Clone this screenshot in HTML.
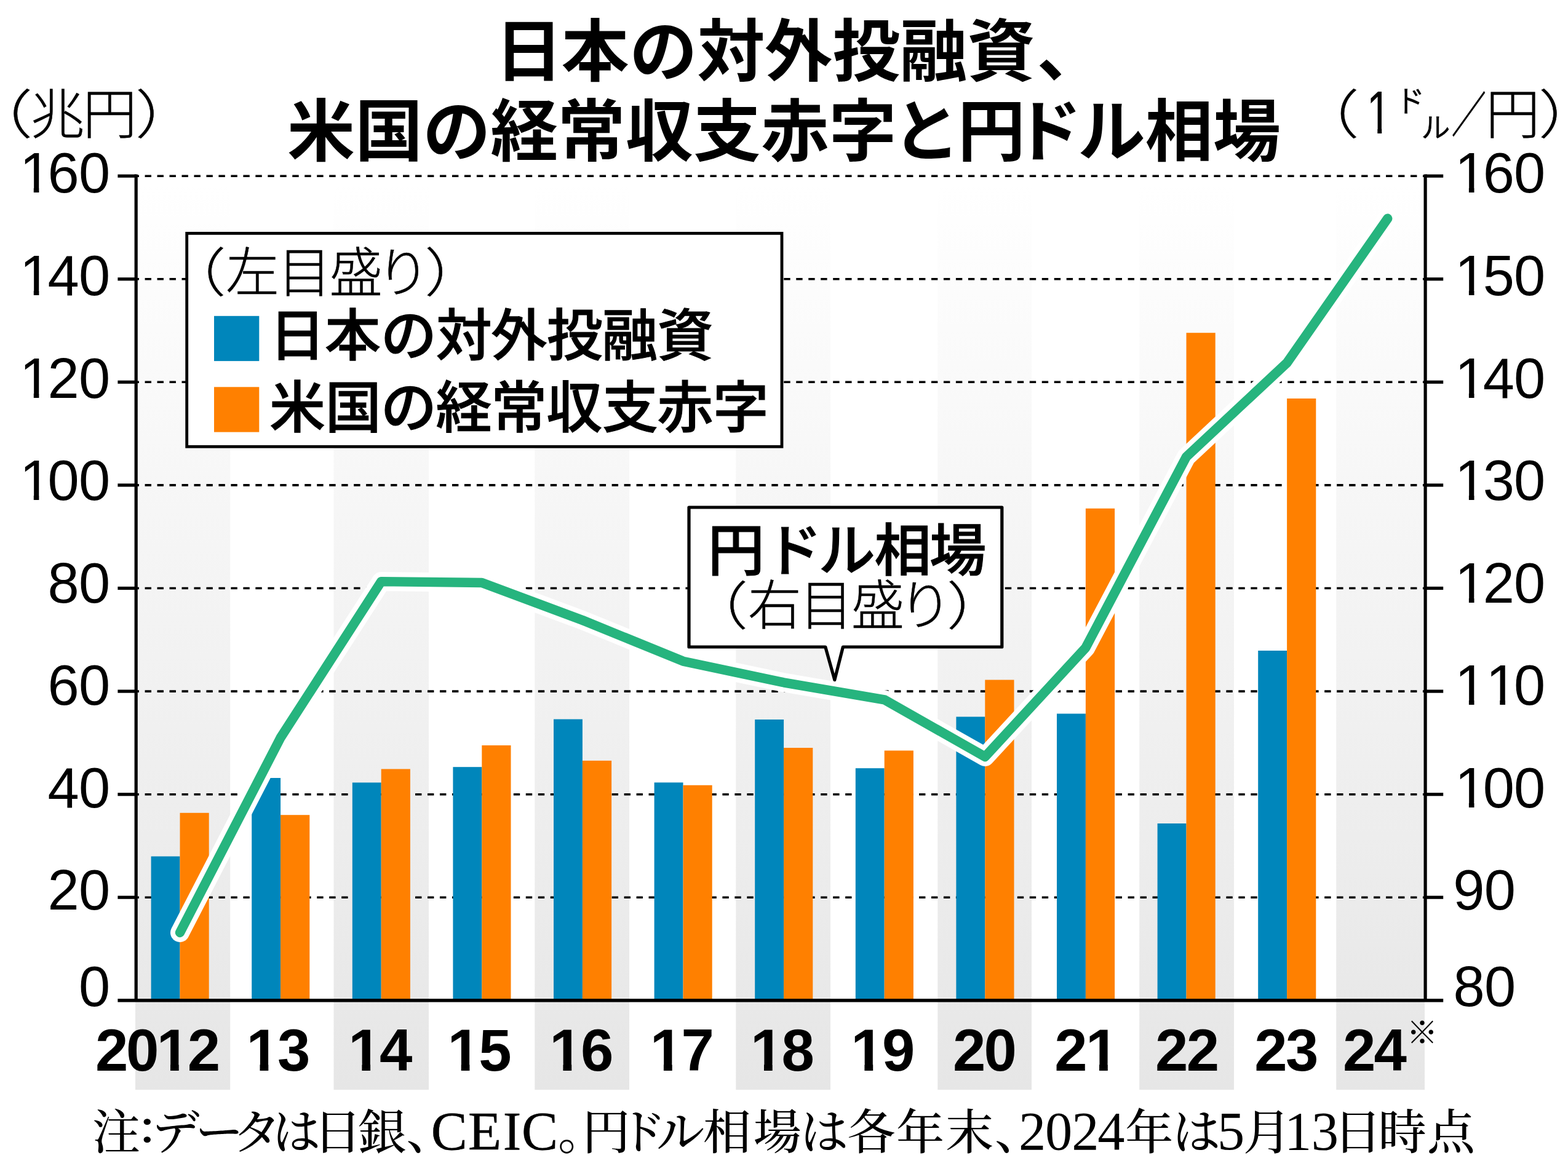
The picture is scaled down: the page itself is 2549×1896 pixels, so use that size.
<!DOCTYPE html>
<html lang="ja">
<head>
<meta charset="utf-8">
<title>日本の対外投融資、米国の経常収支赤字と円ドル相場</title>
<style>
html,body{margin:0;padding:0;background:#fff;}
body{width:2549px;height:1896px;overflow:hidden;position:relative;}
svg{display:block;position:absolute;left:0;top:0;}
text{fill:#000;font-kerning:none;white-space:pre;}
.sansB{font-family:"Noto Sans CJK JP",sans-serif;font-weight:700;}
.sansM{font-family:"Noto Sans CJK JP",sans-serif;font-weight:500;stroke:#000;stroke-width:1.1px;}
.sansR{font-family:"Noto Sans CJK JP",sans-serif;font-weight:400;}
.sansL{font-family:"Noto Sans CJK JP",sans-serif;font-weight:300;stroke:#000;stroke-width:0.5px;}
.serifM{font-family:"Noto Serif CJK JP","Noto Serif CJK SC",serif;font-weight:500;}
.libR{font-family:"Liberation Sans",sans-serif;font-weight:400;}
.libB{font-family:"Liberation Sans",sans-serif;font-weight:700;}
.libSerif{font-family:"Liberation Serif",serif;font-weight:400;}
.libSerifC{font-family:"Liberation Serif",serif;font-weight:400;stroke:#000;stroke-width:0.5px;}
</style>
</head>
<body>
<svg width="2549" height="1896" viewBox="0 0 2549 1896" role="img" aria-label="日本の対外投融資、米国の経常収支赤字と円ドル相場">
<defs>
<linearGradient id="g" gradientUnits="userSpaceOnUse" x1="0" y1="300" x2="0" y2="1772"><stop offset="0" stop-color="#ffffff"/><stop offset="1" stop-color="#e6e6e6"/></linearGradient>
<clipPath id="hn"><path clip-rule="evenodd" d="M0,0H2549V1896H0ZM37.1,805.8h17.7v9.5h-17.7ZM63.4,805.8h17.2v9.5h-17.2ZM37.1,639.3h17.7v9.5h-17.7ZM63.4,639.3h17.2v9.5h-17.2ZM37.1,472h17.7v9.5h-17.7ZM63.4,472h17.2v9.5h-17.2ZM37.1,305.9h17.7v9.5h-17.7ZM63.4,305.9h17.2v9.5h-17.2ZM2370.2,1305.2h17.7v9.5h-17.7ZM2396.5,1305.2h17.2v9.5h-17.2ZM2370.2,1138.8h17.7v9.5h-17.7ZM2396.5,1138.8h17.2v9.5h-17.2ZM2420.6,1138.8h17.7v9.5h-17.7ZM2447,1138.8h17.2v9.5h-17.2ZM2370.2,972.3h17.7v9.5h-17.7ZM2396.5,972.3h17.2v9.5h-17.2ZM2370.2,805.8h17.7v9.5h-17.7ZM2396.5,805.8h17.2v9.5h-17.2ZM2370.2,639.3h17.7v9.5h-17.7ZM2396.5,639.3h17.2v9.5h-17.2ZM2370.2,472h17.7v9.5h-17.7ZM2396.5,472h17.2v9.5h-17.2ZM2370.2,305.9h17.7v9.5h-17.7ZM2396.5,305.9h17.2v9.5h-17.2Z"/></clipPath>
<clipPath id="hx"><path clip-rule="evenodd" d="M0,0H2549V1896H0ZM259,1729.8h18v12.8h-18ZM290.7,1729.8h17v12.8h-17ZM404.5,1729.8h18v12.8h-18ZM436.3,1729.8h17v12.8h-17ZM570.4,1729.8h18v12.8h-18ZM602.1,1729.8h17v12.8h-17ZM731.7,1729.8h18v12.8h-18ZM763.4,1729.8h17v12.8h-17ZM897.4,1729.8h18v12.8h-18ZM929.2,1729.8h17v12.8h-17ZM1060.9,1729.8h18v12.8h-18ZM1092.7,1729.8h17v12.8h-17ZM1224,1729.8h18v12.8h-18ZM1255.7,1729.8h17v12.8h-17ZM1387.4,1729.8h18v12.8h-18ZM1419.2,1729.8h17v12.8h-17ZM1769,1729.8h18v12.8h-18ZM1800.8,1729.8h17v12.8h-17Z"/></clipPath>
<clipPath id="hu"><path clip-rule="evenodd" d="M0,0H2549V1896H0ZM2224.8,209.1h14.5v10.1h-14.5ZM2246.2,209.1h14.2v10.1h-14.2Z"/></clipPath>
</defs>
<rect x="0" y="0" width="2549" height="1896" fill="#fff"/>
<g fill="url(#g)">
<rect x="220" y="300" width="154.2" height="1472"/>
<rect x="542.5" y="300" width="154.5" height="1472"/>
<rect x="869.3" y="300" width="153.7" height="1472"/>
<rect x="1196.3" y="300" width="153.7" height="1472"/>
<rect x="1524.3" y="300" width="152.7" height="1472"/>
<rect x="1852.2" y="300" width="153.8" height="1472"/>
<rect x="2172.2" y="300" width="143.8" height="1472"/>
</g>
<g stroke="#000" stroke-width="3.6" stroke-dasharray="10.4 9.575" fill="none">
<line x1="215.6" y1="1459.2" x2="2317.1" y2="1459.2"/>
<line x1="215.6" y1="1291.7" x2="2317.1" y2="1291.7"/>
<line x1="215.6" y1="1124.1" x2="2317.1" y2="1124.1"/>
<line x1="215.6" y1="956.5" x2="2317.1" y2="956.5"/>
<line x1="215.6" y1="788.9" x2="2317.1" y2="788.9"/>
<line x1="215.6" y1="621.3" x2="2317.1" y2="621.3"/>
<line x1="215.6" y1="453.8" x2="2317.1" y2="453.8"/>
<line x1="215.6" y1="286.2" x2="2317.1" y2="286.2"/>
</g>
<g fill="#0086bb">
<rect x="245.6" y="1392.5" width="46.9" height="234.3"/>
<rect x="409.2" y="1265" width="46.9" height="361.8"/>
<rect x="572.8" y="1272.5" width="46.9" height="354.3"/>
<rect x="736.4" y="1247.2" width="46.9" height="379.6"/>
<rect x="900" y="1169.5" width="46.9" height="457.3"/>
<rect x="1063.6" y="1272.4" width="46.9" height="354.4"/>
<rect x="1227.2" y="1170" width="46.9" height="456.8"/>
<rect x="1390.8" y="1249.2" width="46.9" height="377.5"/>
<rect x="1554.4" y="1165.5" width="46.9" height="461.3"/>
<rect x="1718" y="1160.5" width="46.9" height="466.3"/>
<rect x="1881.6" y="1339" width="46.9" height="287.8"/>
<rect x="2045.2" y="1058" width="46.9" height="568.8"/>
</g>
<g fill="#ff8000">
<rect x="292.5" y="1321.8" width="47.199999999999996" height="305"/>
<rect x="456.1" y="1325.2" width="47.199999999999996" height="301.5"/>
<rect x="619.7" y="1250.5" width="47.199999999999996" height="376.3"/>
<rect x="783.3" y="1212" width="47.199999999999996" height="414.8"/>
<rect x="946.9" y="1236.9" width="47.199999999999996" height="389.9"/>
<rect x="1110.5" y="1276.8" width="47.199999999999996" height="350"/>
<rect x="1274.1" y="1216" width="47.199999999999996" height="410.8"/>
<rect x="1437.7" y="1220.5" width="47.199999999999996" height="406.3"/>
<rect x="1601.3" y="1105.5" width="47.199999999999996" height="521.3"/>
<rect x="1764.9" y="826.8" width="47.199999999999996" height="800"/>
<rect x="1928.5" y="541.2" width="47.199999999999996" height="1085.5"/>
<rect x="2092.1" y="648" width="47.199999999999996" height="978.8"/>
</g>
<g stroke="#000" stroke-width="5.2" fill="none">
<line x1="221.2" y1="283.6" x2="221.2" y2="1626.8"/>
<line x1="2317.1" y1="283.6" x2="2317.1" y2="1626.8"/>
<line x1="191.4" y1="1626.8" x2="2346.2" y2="1626.8" stroke-width="5.6"/>
<line x1="191.4" y1="1459.2" x2="221.2" y2="1459.2"/>
<line x1="2317.1" y1="1459.2" x2="2346.2" y2="1459.2"/>
<line x1="191.4" y1="1291.7" x2="221.2" y2="1291.7"/>
<line x1="2317.1" y1="1291.7" x2="2346.2" y2="1291.7"/>
<line x1="191.4" y1="1124.1" x2="221.2" y2="1124.1"/>
<line x1="2317.1" y1="1124.1" x2="2346.2" y2="1124.1"/>
<line x1="191.4" y1="956.5" x2="221.2" y2="956.5"/>
<line x1="2317.1" y1="956.5" x2="2346.2" y2="956.5"/>
<line x1="191.4" y1="788.9" x2="221.2" y2="788.9"/>
<line x1="2317.1" y1="788.9" x2="2346.2" y2="788.9"/>
<line x1="191.4" y1="621.3" x2="221.2" y2="621.3"/>
<line x1="2317.1" y1="621.3" x2="2346.2" y2="621.3"/>
<line x1="191.4" y1="453.8" x2="221.2" y2="453.8"/>
<line x1="2317.1" y1="453.8" x2="2346.2" y2="453.8"/>
<line x1="191.4" y1="286.2" x2="221.2" y2="286.2"/>
<line x1="2317.1" y1="286.2" x2="2346.2" y2="286.2"/>
</g>
<g clip-path="url(#hn)">
<text class="libR" font-size="92" x="128" y="1635.5">0</text>
<text class="libR" font-size="92" x="77.6 128" y="1478.9">20</text>
<text class="libR" font-size="92" x="77.6 128" y="1312.7">40</text>
<text class="libR" font-size="92" x="77.6 128" y="1146.3">60</text>
<text class="libR" font-size="92" x="77.6 128" y="979.8">80</text>
<text class="libR" font-size="92" x="31.9 77.6 128" y="813.3">100</text>
<text class="libR" font-size="92" x="31.9 77.6 128" y="646.8">120</text>
<text class="libR" font-size="92" x="31.9 77.6 128" y="479.5">140</text>
<text class="libR" font-size="92" x="31.9 77.6 128" y="313.4">160</text>
<text class="libR" font-size="92" x="2362.5 2412.9" y="1635.5">80</text>
<text class="libR" font-size="92" x="2362.3 2412.7" y="1478.9">90</text>
<text class="libR" font-size="92" x="2365 2410.7 2461.1" y="1312.7">100</text>
<text class="libR" font-size="92" x="2365 2415.4 2461.1" y="1146.3">110</text>
<text class="libR" font-size="92" x="2365 2410.7 2461.1" y="979.8">120</text>
<text class="libR" font-size="92" x="2365 2410.7 2461.1" y="813.3">130</text>
<text class="libR" font-size="92" x="2365 2410.7 2461.1" y="646.8">140</text>
<text class="libR" font-size="92" x="2365 2410.7 2461.1" y="479.5">150</text>
<text class="libR" font-size="92" x="2365 2410.7 2461.1" y="313.4">160</text>
</g>
<polyline points="292.5,1516.5 456.1,1199.5 619.7,945.6 783.3,947.5 946.9,1008.5 1110.5,1075.2 1274.1,1109.8 1437.7,1137.8 1601.3,1230.5 1764.9,1053.2 1928.5,742.8 2092.1,590 2255.7,355.3" fill="none" stroke="#fff" stroke-width="31" stroke-linejoin="round" stroke-linecap="round"/>
<polyline points="292.5,1516.5 456.1,1199.5 619.7,945.6 783.3,947.5 946.9,1008.5 1110.5,1075.2 1274.1,1109.8 1437.7,1137.8 1601.3,1230.5 1764.9,1053.2 1928.5,742.8 2092.1,590 2255.7,355.3" fill="none" stroke="#26b47e" stroke-width="15.4" stroke-linejoin="round" stroke-linecap="round"/>
<rect x="303.7" y="379.4" width="967.3" height="346.9" fill="#fff" stroke="#000" stroke-width="4.8"/>
<rect x="348" y="513.8" width="73.3" height="73.3" fill="#0086bb"/>
<rect x="348" y="629.3" width="73.3" height="73.3" fill="#ff8000"/>
<text><tspan class="sansL" font-size="85.2" x="267.5" y="474" textLength="99.79" lengthAdjust="spacingAndGlyphs">（</tspan><tspan class="sansL" font-size="87" x="366.9 451.5 535.3 611.9" y="474.6">左目盛り</tspan><tspan class="sansL" font-size="85.2" x="690.2" y="474" textLength="99.79" lengthAdjust="spacingAndGlyphs">）</tspan></text>
<text class="sansM" font-size="91" x="438 528.1 618.9 708.7 798.2 888.8 978.2 1068.4" y="578.3">日本の対外投融資</text>
<text class="sansM" font-size="91" x="438.1 528.7 618.9 708.6 798.3 888.2 979.1 1068.2 1158.7" y="694.6">米国の経常収支赤字</text>
<path d="M1120,825 H1628.8 V1052 H1370.4 L1356.8,1105.5 L1341.8,1052 H1120 Z" fill="#fff" stroke="#000" stroke-width="5.2" stroke-linejoin="round"/>
<text class="sansM" font-size="92.4" x="1150.4 1243.9 1330.6 1421.4 1511" y="928">円ドル相場</text>
<text><tspan class="sansL" font-size="84.14" x="1116.2" y="1015.6" textLength="99.79" lengthAdjust="spacingAndGlyphs">（</tspan><tspan class="sansL" font-size="87" x="1215.8 1299.7 1383.5 1460.7" y="1016">右目盛り</tspan><tspan class="sansL" font-size="84.14" x="1539" y="1015.6" textLength="99.79" lengthAdjust="spacingAndGlyphs">）</tspan></text>
<text class="sansB" font-size="110" x="804.7 912.4 1023.5 1133.4 1243.1 1353.4 1462.3 1572.5 1685.4" y="123">日本の対外投融資、</text>
<text class="sansB" font-size="110" x="467 577.3 687.6 797.3 906.4 1016.9 1127 1237.3 1347.4 1450.7 1556.7 1648.8 1751.9 1861.8 1971.9" y="252.9">米国の経常収支赤字と円ドル相場</text>
<text><tspan class="sansL" font-size="85.41" x="-53.5" y="216.5" textLength="106.72" lengthAdjust="spacingAndGlyphs">（</tspan><tspan class="sansL" font-size="88" x="49.3 134.6" y="216.5">兆円</tspan><tspan class="sansL" font-size="85.41" x="220.1" y="216.5" textLength="103.36" lengthAdjust="spacingAndGlyphs">）</tspan></text>
<text clip-path="url(#hu)"><tspan class="sansL" font-size="85.41" x="2106.4" y="216.5" textLength="102.94" lengthAdjust="spacingAndGlyphs">（</tspan><tspan class="libR" font-size="99.13" x="2221.5" y="217.2" textLength="40.03" lengthAdjust="spacingAndGlyphs">1</tspan><tspan class="sansL" font-size="90.72" x="2269.9" y="218.8" textLength="91.09" lengthAdjust="spacingAndGlyphs">㌦</tspan><tspan class="sansL" font-size="79.55" x="2359.2" y="215.2" textLength="56.93" lengthAdjust="spacingAndGlyphs">／</tspan><tspan class="sansL" font-size="88" x="2415.2" y="216.5">円</tspan><tspan class="sansL" font-size="85.41" x="2500.9" y="216.5" textLength="102.94" lengthAdjust="spacingAndGlyphs">）</tspan></text>
<g clip-path="url(#hx)">
<text class="libB" font-size="96" x="154.9 204.9 254.8 304.8" y="1740.6">2012</text>
<text class="libB" font-size="96" x="400.4 451.1" y="1740.6">13</text>
<text class="libB" font-size="96" x="566.2 616.9" y="1740.6">14</text>
<text class="libB" font-size="96" x="727.5 778.2" y="1740.6">15</text>
<text class="libB" font-size="96" x="893.3 944" y="1740.6">16</text>
<text class="libB" font-size="96" x="1056.8 1107.5" y="1740.6">17</text>
<text class="libB" font-size="96" x="1219.9 1270.6" y="1740.6">18</text>
<text class="libB" font-size="96" x="1383.3 1434" y="1740.6">19</text>
<text class="libB" font-size="96" x="1548.9 1599.6" y="1740.6">20</text>
<text class="libB" font-size="96" x="1714.2 1764.9" y="1740.6">21</text>
<text class="libB" font-size="96" x="1878 1928.7" y="1740.6">22</text>
<text class="libB" font-size="96" x="2039.3 2090" y="1740.6">23</text>
<text class="libB" font-size="96" x="2182.9 2233.6" y="1740.6">24</text>
</g>
<text class="sansR" font-size="50" x="2287.1" y="1697.1">※</text>
<text><tspan class="serifM" font-size="78" x="150.1" y="1868.6">注</tspan><tspan class="serifM" font-size="72.92" x="225.5" y="1857" textLength="27.62" lengthAdjust="spacingAndGlyphs">:</tspan><tspan class="serifM" font-size="78" x="246.6 317.5 378.7 442.9 509.7 582.2 660.6" y="1868.6">データは日銀、</tspan><tspan class="libSerifC" font-size="88.5" x="700.8 760.9 817.7 848.1" y="1869.1">CEIC</tspan><tspan class="serifM" font-size="78" x="907.1 946.6 1005 1067.1 1143 1224.8 1301 1377.5 1457 1537.2 1617.1" y="1868.6">。円ドル相場は各年末、</tspan><tspan class="libSerif" font-size="88.5" x="1655.9 1699.1 1742.2 1784.3" y="1869.1">2024</tspan><tspan class="serifM" font-size="78" x="1829.2 1906" y="1868.6">年は</tspan><tspan class="libSerif" font-size="88.5" x="1979.1" y="1869.1">5</tspan><tspan class="serifM" font-size="78" x="2020.9" y="1868.6">月</tspan><tspan class="libSerif" font-size="88.5" x="2088 2131.7" y="1869.1">13</tspan><tspan class="serifM" font-size="78" x="2167.9 2240.8 2319.9" y="1868.6">日時点</tspan></text>
</svg>
</body>
</html>
